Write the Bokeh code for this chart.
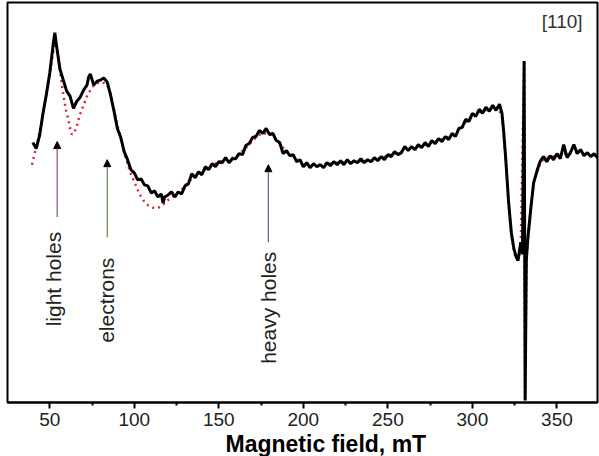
from math import pi
from bokeh.plotting import figure
from bokeh.models import Range1d, Arrow, NormalHead, Label, FixedTicker, ColumnDataSource, Title
from bokeh.core.properties import value
from bokeh.embed import file_html
from bokeh.resources import INLINE

# ---- data (field in mT, ESR signal in arbitrary units) ----
field = [40, 42, 44, 46, 48, 50, 52, 53, 54, 56, 58, 60, 62, 64, 66, 68, 70, 72, 73, 74,
         76, 78, 80, 82, 84, 86, 88, 90, 92, 94, 96, 98, 100, 102, 104, 106, 108, 110, 112, 114,
         116, 117, 118, 120, 122, 124, 126, 128, 130, 132, 134, 136, 138, 140, 142, 144, 146, 148, 150, 152,
         154, 156, 158, 160, 162, 164, 166, 168, 170, 172, 174, 176, 178, 180, 182, 184, 186, 188, 190, 192,
         194, 196, 198, 200, 202, 204, 206, 208, 210, 212, 214, 216, 218, 220, 222, 224, 226, 228, 230, 232,
         234, 236, 238, 240, 242, 244, 246, 248, 250, 252, 254, 256, 258, 260, 262, 264, 266, 268, 270, 272,
         274, 276, 278, 280, 282, 284, 286, 288, 290, 292, 294, 296, 298, 300, 302, 304, 306, 308, 310, 312,
         314, 316, 317.5, 318.5, 319.7, 321.4, 323, 324.5, 326, 327, 328.6, 329.6, 330.6, 331.2, 331.9, 332.8, 334.5, 336.2, 338.6, 340,
         342, 344, 346, 348, 350, 352, 354, 356, 358, 360, 362, 364, 366, 368, 370, 372, 374]
signal = [258, 252, 265, 287, 306, 327, 355, 367, 354, 331, 320, 309, 304, 292, 299, 303, 310, 315, 323, 326,
          315, 319, 320, 322, 318, 305, 289, 272, 263, 249, 241, 231, 228, 221, 222, 216, 215, 208, 210, 204,
          207, 198, 204, 206, 209, 204, 209, 207, 215, 217, 227, 223, 229, 226, 234, 231, 237, 234, 239, 238,
          243, 238, 242, 242, 247, 246, 255, 257, 263, 264, 270, 267, 272, 266, 267, 260, 258, 247, 250, 245,
          246, 239, 241, 234, 238, 233, 237, 234, 236, 233, 238, 235, 239, 236, 240, 236, 241, 237, 240, 238,
          242, 238, 241, 239, 243, 240, 244, 241, 246, 244, 249, 246, 248, 254, 250, 254, 251, 256, 253, 258,
          254, 260, 257, 262, 259, 264, 261, 267, 264, 272, 273, 281, 279, 287, 284, 291, 287, 293, 289, 295,
          290, 296, 287, 269, 242, 199, 169, 153, 144, 141, 159, 147, 339, 2, 141, 163, 192, 218, 232, 239,
          244, 239, 245, 241, 247, 242, 256, 243, 248, 256, 247, 251, 245, 248, 244, 247, 243]

fit_field = [39.5, 41, 43, 45, 47, 49, 51, 53, 54.5, 56, 57, 58, 59.5, 61, 62, 63, 64.5, 66, 67.5, 69.5,
             72, 75, 78, 81, 84, 86, 88, 90, 92, 94, 96, 98, 100, 102, 104, 106, 108, 110, 112, 114,
             116, 118, 120, 124, 128, 132, 136, 140, 145, 150, 155, 160, 165, 170, 175, 180, 185, 190, 195, 200,
             210, 220, 230, 240, 250, 260, 270, 280, 290, 296, 300, 305, 310, 315, 317.5, 319.7, 321.4, 323, 325, 327,
             328.6, 330.6, 331.2, 332, 333, 334.5, 336.2, 338.6, 342, 350, 360, 374]
fit_signal = [236, 247, 261, 277, 295, 314, 337, 357, 349, 331, 317, 306, 291, 281, 272, 266, 268, 274, 284, 293,
              304, 313, 317, 318, 315, 306, 291, 275, 262, 249, 237, 227, 219, 211, 204, 199, 196, 194, 193, 193,
              195, 198, 201, 206, 211, 219, 225, 229, 234, 239, 241, 244, 251, 260, 267, 267, 259, 249, 242, 237,
              236, 238, 239, 240, 245, 250, 255, 260, 266, 278, 285, 289, 291, 293, 284, 242, 199, 167, 147, 141,
              154, 337, 4, 144, 164, 192, 217, 232, 242, 245, 249, 245]

arrow_field = [54.4, 84.0, 179.3]
arrow_base = [184, 164, 159]
arrow_tip = [259, 241, 236]
arrow_colors = ["#8a4a86", "#5e8a4e", "#5a5e9a"]

label_text = ["light holes", "electrons", "heavy holes"]
label_field = [52.4, 83.5, 179.1]
label_signal = [122.5, 101.5, 94]

major_ticks = [50, 100, 150, 200, 250, 300, 350]
minor_ticks = [75, 125, 175, 225, 275, 325]

FONT = "Liberation Sans"

p = figure(width=599, height=456, output_backend="svg", toolbar_location=None,
           x_range=Range1d(25, 374), y_range=Range1d(0, 397),
           y_axis_location=None,
           min_border_left=7, min_border_right=2, min_border_top=2, min_border_bottom=10,
           background_fill_color="white", border_fill_color="white")
p.xgrid.visible = False
p.ygrid.visible = False
p.outline_line_color = "black"
p.outline_line_width = 2

ax = p.xaxis[0]
ax.ticker = FixedTicker(ticks=major_ticks, minor_ticks=minor_ticks)
ax.axis_line_width = 2
ax.major_tick_in = 0
ax.major_tick_out = 6
ax.minor_tick_in = 0
ax.minor_tick_out = 3
ax.major_tick_line_width = 2
ax.minor_tick_line_width = 2
ax.major_label_text_font = FONT
ax.major_label_text_font_size = "19px"
ax.major_label_text_color = "#222222"
ax.major_label_standoff = 4

fit_src = ColumnDataSource(dict(x=fit_field, y=fit_signal))
dat_src = ColumnDataSource(dict(x=field, y=signal))
p.line("x", "y", source=fit_src, line_color="#d8283a", line_width=2.5, line_dash="2 4")
p.line("x", "y", source=dat_src, line_color="black", line_width=3)

for xf, yb, yt, c in zip(arrow_field, arrow_base, arrow_tip, arrow_colors):
    p.add_layout(Arrow(x_start=xf, y_start=yb, x_end=xf, y_end=yt, line_color=c, line_width=1.2,
                       end=NormalHead(size=7, fill_color="black", line_color="black")))

p.text(x=label_field, y=label_signal, text=label_text, angle=pi / 2,
       text_font=value(FONT), text_font_size="21px", text_color="#222222",
       text_align="center", text_baseline="middle")

p.add_layout(Label(x=365.2, y=389, text="[110]", text_font=FONT, text_font_size="19px",
                   text_color="#333333", text_align="right", text_baseline="top"))

p.add_layout(Title(text="Magnetic field, mT", align="left", offset=218, standoff=0,
                   text_font=FONT, text_font_size="23px", text_font_style="bold",
                   text_color="black"), "below")

open("out.html", "w").write(file_html(p, INLINE))
